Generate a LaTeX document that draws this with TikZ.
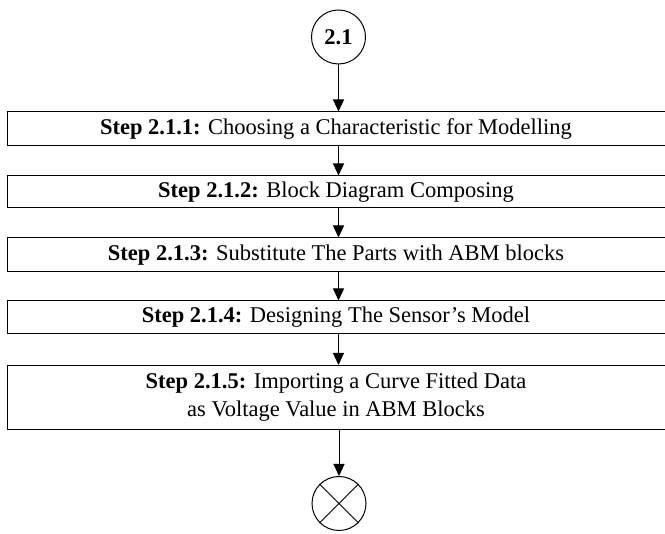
\documentclass[tikz,border=0pt]{standalone}
\usepackage{fontspec}
\setmainfont{Liberation Serif}
\usetikzlibrary{arrows.meta}
\begin{document}
\begin{tikzpicture}[x=1pt,y=-1pt,
  stepbox/.style={draw,line width=1pt,minimum width=658pt,inner sep=0pt,font=\fontsize{22.5}{28}\selectfont,align=center},
  conn/.style={line width=1pt,-{Triangle[width=11pt,length=12pt]}},
  circ/.style={draw,circle,line width=1pt,minimum size=54pt,inner sep=0pt}]
\useasboundingbox (0,0) rectangle (665,534);
\node[circ,font=\fontsize{22.5}{26}\selectfont\bfseries] (c1) at (338.5,37) {2.1};
\node[stepbox,minimum height=34pt] (s1) at (336,129) {\textbf{Step 2.1.1:} Choosing a Characteristic for Modelling};
\node[stepbox,minimum height=32pt] (s2) at (336,192) {\textbf{Step 2.1.2:} Block Diagram Composing};
\node[stepbox,minimum height=34pt] (s3) at (336,255) {\textbf{Step 2.1.3:} Substitute The Parts with ABM blocks};
\node[stepbox,minimum height=33pt] (s4) at (336,317.5) {\textbf{Step 2.1.4:} Designing The Sensor’s Model};
\node[stepbox,minimum height=64pt] (s5) at (336,397.5) {\textbf{Step 2.1.5:} Importing a Curve Fitted Data\\as Voltage Value in ABM Blocks};
\node[circ] (c2) at (339,503.5) {};
\draw[line width=1pt] (c2.north west) -- (c2.south east) (c2.north east) -- (c2.south west);
\draw[conn] (c1.south) -- (c1.south |- s1.north);
\draw[conn] (s1.south -| c1) -- (s2.north -| c1);
\draw[conn] (s2.south -| c1) -- (s3.north -| c1);
\draw[conn] (s3.south -| c1) -- (s4.north -| c1);
\draw[conn] (s4.south -| c1) -- (s5.north -| c1);
\draw[conn] (s5.south -| c2) -- (c2.north);
\end{tikzpicture}
\end{document}
